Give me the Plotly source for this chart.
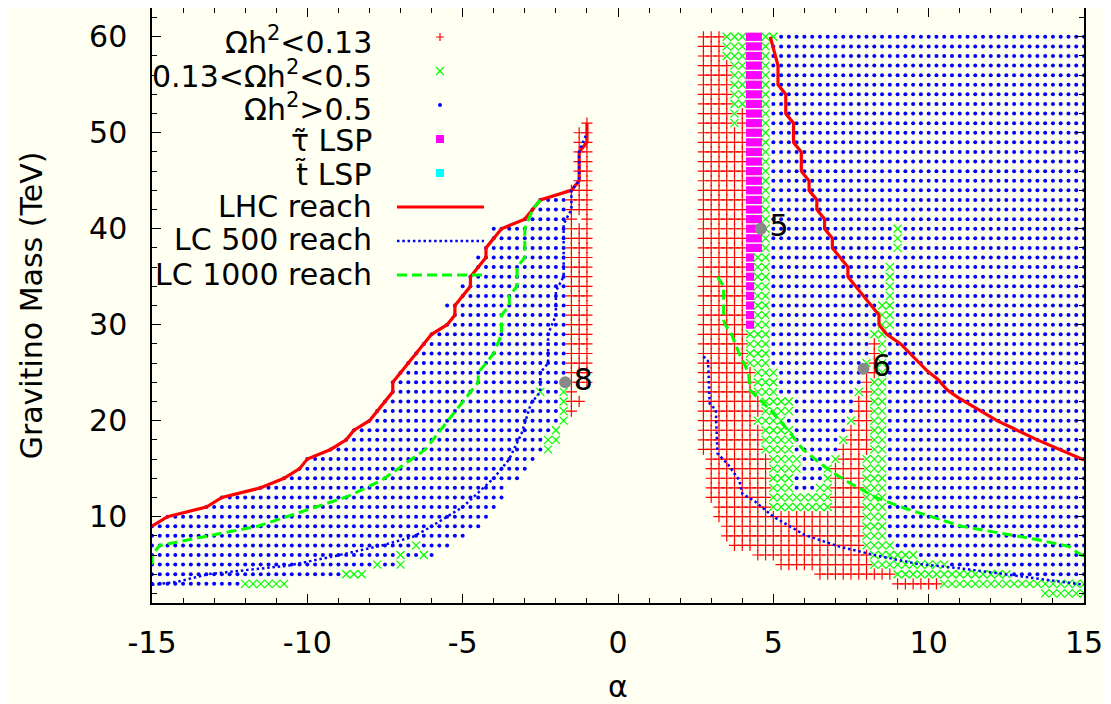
import plotly.graph_objects as go

STEP = 0.25

# ---- grid-point classification ------------------------------------------
# each band: (mass_from, mass_to, "cls a0 a1; cls a0 a1; ...")  (alpha ranges inclusive, step 0.25)
# r: Omega h^2 < 0.13, g: 0.13 < Omega h^2 < 0.5, b: Omega h^2 > 0.5, m: stau LSP
left_bands = [
    (3, 3, "b -15 -12.25; g -12 -10.75"),
    (4, 4, "b -15 -9; g -8.75 -8.25"),
    (5, 5, "b -15 -8; g -7.75; b -7.5 -7.25; g -7"),
    (6, 6, "b -15 -7.25; g -7; b -6.75 -6.5; g -6.25; b -6"),
    (7, 7, "b -15 -6.75; g -6.5; b -6.25 -5.5"),
    (8, 8, "b -15 -5"),
    (9, 9, "b -15 -4.5"),
    (10, 10, "b -14.5 -4.25"),
    (11, 11, "b -13.25 -4"),
    (12, 12, "b -12.75 -3.75"),
    (13, 13, "b -11.5 -3.75"),
    (14, 14, "b -10.75 -3.25"),
    (15, 15, "b -10.25 -3"),
    (16, 16, "b -10 -2.75"),
    (17, 17, "b -9.25 -2.5; g -2.25"),
    (18, 18, "b -8.75 -2.5; g -2.25 -2"),
    (19, 19, "b -8.5 -2.25; g -2"),
    (20, 20, "b -8 -2; g -1.75"),
    (21, 21, "b -7.75 -2; g -1.75; r -1.5"),
    (22, 22, "b -7.5 -2; g -1.75; r -1.5 -1.25"),
    (23, 23, "b -7.25 -2.75; g -2.5; b -2.25 -2; g -1.75; r -1.5"),
    (24, 24, "b -7.25 -1.75; r -1.5 -1"),
    (25, 25, "b -7 -1.75; r -1.5 -1"),
    (26, 26, "b -6.75 -1.75; r -1.5 -1"),
    (27, 27, "b -6.5 -1.75; r -1.5 -1"),
    (28, 28, "b -6.25 -1.75; r -1.5 -1"),
    (29, 29, "b -6 -1.75; r -1.5 -1"),
    (30, 30, "b -5.5 -1.75; r -1.5 -1"),
    (31, 31, "b -5.25 -1.75; r -1.5 -1"),
    (32, 32, "b -5.5 -1.75; r -1.5 -1"),
    (33, 33, "b -5 -1.75; r -1.5 -1"),
    (34, 34, "b -5 -1.75; r -1.5 -1"),
    (35, 35, "b -4.75 -1.75; r -1.5 -1"),
    (36, 37, "b -4.5 -1.75; r -1.5 -1"),
    (38, 38, "b -4.25 -1.75; r -1.5 -1"),
    (39, 40, "b -4 -1.75; r -1.5 -1"),
    (41, 41, "b -3 -1.75; r -1.5; r -1"),
    (42, 42, "b -2.75 -1.75; r -1.5 -1"),
    (43, 43, "b -2.5 -1.75; r -1.5 -1"),
    (44, 44, "r -1.5 -1"),
    (45, 50, "r -1.25 -1"),
    (51, 51, "r -1"),
]

right_bands = [
    (2, 2, "g 13.75 15"),
    (3, 3, "r 9 10.25; g 10.5 15"),
    (4, 4, "r 6.5 8.75; g 9 12.5; b 12.75 15"),
    (5, 5, "r 5.25 8; g 8.25 10.5; b 10.75 15"),
    (6, 6, "r 4.5 8; g 8.25 9.5; b 9.75 15"),
    (7, 7, "r 3.75 7.75; g 8 8.75; b 9 15"),
    (8, 8, "r 3.5 7.75; g 8 8.5; b 8.75 15"),
    (9, 9, "r 3.5 7.75; g 8 8.5; b 8.75 15"),
    (10, 10, "r 3.25 7.75; g 8 8.5; b 8.75 15"),
    (11, 11, "r 3.25 4.75; g 5 6.75; r 7 7.75; g 8 8.5; b 8.75 15"),
    (12, 12, "r 3 4.75; g 5 6.75; r 7 7.75; g 8 8.5; b 8.75 15"),
    (13, 13, "r 3 4.75; g 5 5.5; b 5.75 6.25; g 6.5 6.75; r 7 7.75; g 8 8.5; b 8.75 15"),
    (14, 14, "r 3 4.75; g 5 5.5; b 5.75 6.5; g 6.75; r 7 7.75; g 8 8.5; b 8.75 15"),
    (15, 15, "r 3 4.75; g 5 5.75; b 6 6.5; g 6.75; r 7 7.75; g 8 8.5; b 8.75 15"),
    (16, 16, "r 3 4.75; g 5 5.75; b 6 6.75; g 7; r 7.25 7.75; g 8 8.5; b 8.75 15"),
    (17, 17, "r 2.75 4.5; g 4.75 5.5; b 5.75 7; r 7.25 8; g 8.25 8.5; b 8.75 15"),
    (18, 18, "r 2.75 4.5; g 4.75 5.5; b 5.75 7; g 7.25; r 7.5 8; g 8.25 8.5; b 8.75 15"),
    (19, 19, "r 2.75 4.5; g 4.75 5.5; b 5.75 7.25; r 7.5 8; g 8.25 8.5; b 8.75 15"),
    (20, 20, "r 2.75 4.25; g 4.5 5.25; b 5.5 7.25; g 7.5; r 7.75 8; g 8.25 8.5; b 8.75 15"),
    (21, 22, "r 2.75 4.5; g 4.75 5.5; b 5.75 7.5; r 7.75 8; g 8.25 8.5; b 8.75 15"),
    (23, 23, "r 2.75 4.25; g 4.5 5; b 5.25 7.5; g 7.75; r 8; g 8.25 8.5; b 8.75 15"),
    (24, 24, "r 2.75 4.25; g 4.5 5; b 5.25 7.75; r 8; g 8.25 8.5; b 8.75 15"),
    (25, 25, "r 2.75 4.25; g 4.5 5; b 5.25 7.75; r 8 8.25; g 8.5; b 8.75 15"),
    (26, 26, "r 2.75 4; g 4.25 4.75; b 5 7.75; g 8; r 8.25; g 8.5; b 8.75 15"),
    (27, 28, "r 2.75 4; g 4.25 4.75; b 5 8; r 8.25; g 8.5; b 8.75 15"),
    (29, 29, "r 2.75 4; g 4.25 4.75; b 5 8; g 8.25 8.5; b 8.75 15"),
    (30, 32, "r 2.75 4; m 4.25; g 4.5 4.75; b 5 8.25; g 8.5 8.75; b 9 15"),
    (33, 36, "r 2.75 4; m 4.25; g 4.5 4.75; b 5 8.5; g 8.75; b 9 15"),
    (37, 37, "r 2.75 4; m 4.25; g 4.5 4.75; b 5 15"),
    (38, 40, "r 2.75 4; m 4.25 4.5; g 4.75; b 5 8.75; g 9; b 9.25 15"),
    (41, 50, "r 2.75 4; m 4.25 4.5; g 4.75; b 5 15"),
    (51, 52, "r 2.75 3.5; g 3.75; r 4; m 4.25 4.5; g 4.75; b 5 15"),
    (53, 57, "r 2.75 3.5; g 3.75 4; m 4.25 4.5; g 4.75; b 5 15"),
    (58, 59, "r 2.75 3.25; g 3.5 4; m 4.25 4.5; g 4.75; b 5 15"),
    (60, 60, "r 2.75 3.25; g 3.5 4; m 4.25 4.5; g 4.75 5; b 5.25 15"),
]

# ---- reach contours -----------------------------------------------------
lhc_left_alpha = [-15, -14.5, -13.25, -12.75, -11.5, -10.75, -10.25, -10, -9.25, -8.75, -8.5, -8,
                  -7.25, -7.25, -6, -5.5, -5.25, -5.25, -4.75, -4.75, -4.25, -4.25, -3.75, -3.0,
                  -2.75, -2.5, -1.5, -1.25, -1.25, -1.0, -1.0]
lhc_left_mass = [9, 10, 11, 12, 13, 14, 15, 16, 17, 18, 19, 20, 23, 24, 29, 30, 31, 32, 34, 35,
                 37, 38, 40, 41, 42, 43, 44, 45, 48, 49, 51]
lhc_right_alpha = [4.9, 5.15, 5.15, 5.4, 5.4, 5.65, 5.65, 5.9, 5.9, 6.15, 6.15, 6.4, 6.4, 6.65,
                   6.65, 6.9, 6.9, 7.4, 7.4, 8.4, 8.4, 8.65, 9.1, 9.95, 10.3, 10.6, 10.95, 12.2,
                   13.5, 15]
lhc_right_mass = [60, 57, 55, 54, 52, 51, 49, 48, 46, 45, 44, 43, 42, 41, 40, 39, 38, 36, 35, 31,
                  30, 29, 28, 25.2, 24.3, 23.2, 22.4, 20, 18, 15.9]

lc500_left_alpha = [-15, -14.2, -13.2, -12.3, -10.6, -9.1, -7.6, -6.6, -6.1, -5.55, -5.0, -4.5,
                    -4.0, -3.5, -3.1, -2.8, -2.5, -2.5, -2.25, -2.25, -2.0, -2.0, -1.75, -1.75,
                    -1.5, -1.5, -1.25, -1.25, -1.0]
lc500_left_mass = [2.9, 3.2, 4.0, 4.3, 4.9, 5.9, 7.0, 7.9, 8.8, 9.9, 11.0, 12.5, 14.0, 16.0, 18.7,
                   21.8, 23, 25, 26, 29, 31, 33.5, 35, 40.5, 42, 44, 45, 48, 50]
lc500_right_alpha = [2.75, 2.9, 2.95, 3.15, 3.2, 3.55, 3.9, 4.0, 4.4, 5.0, 6.0, 7.1, 8.25, 9.6,
                     11.05, 12.65, 13.95, 15]
lc500_right_mass = [26.7, 26.2, 21.8, 21.1, 16.6, 15.4, 13.8, 12.4, 11.6, 10.0, 8.1, 6.9, 6.0,
                    5.1, 4.6, 3.9, 3.4, 2.9]

lc1000_left_alpha = [-15, -15, -14.75, -11.6, -10.0, -8.7, -7.6, -6.2, -5.5, -4.5, -4.5, -4.0,
                     -3.75, -3.75, -3.5, -3.5, -3.25, -3.25, -3.0, -3.0, -2.75, -2.5]
lc1000_left_mass = [5.0, 6.0, 7.0, 9.0, 10.7, 12.1, 13.8, 17, 19.9, 24, 25, 27, 29, 31, 32, 33,
                    34, 36, 37, 40, 42, 43]
lc1000_right_alpha = [3.2, 3.4, 3.4, 3.45, 3.65, 3.9, 4.2, 4.25, 4.9, 5.5, 5.95, 6.65, 7.3, 8.3,
                      9.2, 10.25, 11.05, 13.5, 14.5, 15]
lc1000_right_mass = [35, 34, 30.5, 30, 29, 27, 25, 23.2, 21.1, 18.9, 17, 15.2, 13.8, 12.0, 10.9,
                     9.8, 9.0, 7.6, 6.9, 5.8]

# benchmark points
bench_alpha = [4.6, 7.9, -1.7]
bench_mass = [40, 25.4, 24]
bench_label = ["5", "6", "8"]

x_tickvals = [-15, -10, -5, 0, 5, 10, 15]
x_ticktext = ["-15", "-10", "-5", "0", "5", "10", "15"]
y_tickvals = [10, 20, 30, 40, 50, 60]

legend_labels = ["Ωh<sup>2</sup>&lt;0.13", "0.13&lt;Ωh<sup>2</sup>&lt;0.5", "Ωh<sup>2</sup>&gt;0.5",
                 "τ̃ LSP", "t̃ LSP", "LHC reach", "LC 500 reach", "LC 1000 reach"]

# ---- expand bands into points -------------------------------------------
pts = {c: ([], []) for c in "rgbm"}


def expand(bands):
    for m0, m1, spec in bands:
        for m in range(m0, m1 + 1):
            for seg in spec.split(";"):
                parts = seg.split()
                c = parts[0]
                a0 = float(parts[1])
                a1 = float(parts[2]) if len(parts) > 2 else a0
                n = int(round((a1 - a0) / STEP))
                for k in range(n + 1):
                    pts[c][0].append(a0 + k * STEP)
                    pts[c][1].append(m)


expand(left_bands)
expand(right_bands)

RED = "#ff0000"
GREEN = "#00ff00"
BLUE = "#0000ff"
MAG = "#ff00ff"
CYAN = "#00ffff"
BG = "#fffff2"
FONT = "DejaVu Sans, Verdana, sans-serif"
FS = 30
DOT = "2.5px,2.8px"
DASH = "10px,5px"

fig = go.Figure()
fig.add_trace(go.Scatter(x=pts["r"][0], y=pts["r"][1], mode="markers",
                         marker=dict(symbol="cross-thin", size=8, line=dict(color=RED, width=1.2))))
fig.add_trace(go.Scatter(x=pts["g"][0], y=pts["g"][1], mode="markers",
                         marker=dict(symbol="x-thin", size=8, line=dict(color=GREEN, width=1.2))))
fig.add_trace(go.Scatter(x=pts["b"][0], y=pts["b"][1], mode="markers",
                         marker=dict(symbol="circle", size=4, color=BLUE, line=dict(width=0))))
fig.add_trace(go.Scatter(x=pts["m"][0], y=pts["m"][1], mode="markers",
                         marker=dict(symbol="square", size=8.2, color=MAG, line=dict(width=0))))

for xs, ys in [(lhc_left_alpha, lhc_left_mass), (lhc_right_alpha, lhc_right_mass)]:
    fig.add_trace(go.Scatter(x=xs, y=ys, mode="lines", line=dict(color=RED, width=3.2)))
for xs, ys in [(lc500_left_alpha, lc500_left_mass), (lc500_right_alpha, lc500_right_mass)]:
    fig.add_trace(go.Scatter(x=xs, y=ys, mode="lines", line=dict(color=BLUE, width=2.5, dash=DOT)))
for xs, ys in [(lc1000_left_alpha, lc1000_left_mass), (lc1000_right_alpha, lc1000_right_mass)]:
    fig.add_trace(go.Scatter(x=xs, y=ys, mode="lines", line=dict(color=GREEN, width=3, dash=DASH)))

fig.add_trace(go.Scatter(x=bench_alpha, y=bench_mass, mode="markers+text", text=bench_label,
                         textposition="middle right",
                         textfont=dict(size=FS, color="black", family=FONT),
                         marker=dict(size=12, color="#888888")))

# ---- legend drawn inside the plot (gnuplot style) ------------------------
# page pixel geometry of the frame (the page body adds an 8 px offset)
OFF = 8
L, R, T, B = 152, 1084, 8, 603
W, H = 1111 - OFF, 704 - OFF


def px(x):
    return (x - L) / (R - L)


def py(y):
    return (B - y) / (B - T)


shapes = []
annotations = []
entry_y = [37, 71, 105, 139, 173, 207, 241, 275]
text_dy = [3, 3, 3, 1, 1, -1, -1, -1]
sym_x = 440
for lab, yy, dy in zip(legend_labels, entry_y, text_dy):
    annotations.append(dict(x=px(374), y=py(yy + dy), xref="paper", yref="paper", text=lab,
                            showarrow=False, xanchor="right", yanchor="middle",
                            font=dict(size=FS, color="black", family=FONT)))
s = 4
shapes.append(dict(type="path", xref="paper", yref="paper",
                   path=f"M {px(sym_x - s)},{py(entry_y[0])} L {px(sym_x + s)},{py(entry_y[0])} "
                        f"M {px(sym_x)},{py(entry_y[0] - s)} L {px(sym_x)},{py(entry_y[0] + s)}",
                   line=dict(color=RED, width=1.2)))
shapes.append(dict(type="path", xref="paper", yref="paper",
                   path=f"M {px(sym_x - s)},{py(entry_y[1] - s)} L {px(sym_x + s)},{py(entry_y[1] + s)} "
                        f"M {px(sym_x - s)},{py(entry_y[1] + s)} L {px(sym_x + s)},{py(entry_y[1] - s)}",
                   line=dict(color=GREEN, width=1.2)))
shapes.append(dict(type="circle", xref="paper", yref="paper", x0=px(sym_x - 2), x1=px(sym_x + 2),
                   y0=py(entry_y[2] - 2), y1=py(entry_y[2] + 2), fillcolor=BLUE, line=dict(width=0)))
for yy, col in [(entry_y[3], MAG), (entry_y[4], CYAN)]:
    shapes.append(dict(type="rect", xref="paper", yref="paper", x0=px(sym_x - 4), x1=px(sym_x + 4),
                       y0=py(yy - 4), y1=py(yy + 4), fillcolor=col, line=dict(width=0)))
for yy, col, dash, w in [(entry_y[5], RED, "solid", 3.2), (entry_y[6], BLUE, DOT, 2.5),
                         (entry_y[7], GREEN, DASH, 3)]:
    shapes.append(dict(type="line", xref="paper", yref="paper", x0=px(397), x1=px(484),
                       y0=py(yy), y1=py(yy), line=dict(color=col, width=w, dash=dash)))

fig.update_layout(
    width=W, height=H,
    margin=dict(l=L - OFF, r=W - (R - OFF), t=T - OFF, b=H - (B - OFF), autoexpand=False),
    paper_bgcolor=BG, plot_bgcolor=BG,
    showlegend=False,
    shapes=shapes, annotations=annotations,
    font=dict(family=FONT, size=FS, color="black"),
)
fig.update_xaxes(range=[-15, 15], tickvals=x_tickvals, ticktext=x_ticktext, ticks="inside",
                 ticklen=9, tickwidth=1.3, tickcolor="black", mirror="ticks", showline=True,
                 linecolor="black", linewidth=1.5, showgrid=False, zeroline=False, automargin=False,
                 tickfont=dict(size=FS, family=FONT), ticklabelstandoff=12,
                 minor=dict(dtick=1, tick0=0, ticks="inside", ticklen=5, tickcolor="black"),
                 title=dict(text="α", font=dict(size=FS, family=FONT), standoff=17))
fig.update_yaxes(range=[1, 63], tickvals=y_tickvals, ticks="inside",
                 ticklen=9, tickwidth=1.3, tickcolor="black", mirror="ticks", showline=True,
                 linecolor="black", linewidth=1.5, showgrid=False, zeroline=False, automargin=False,
                 tickfont=dict(size=FS, family=FONT), ticklabelstandoff=17,
                 minor=dict(dtick=2, tick0=0, ticks="inside", ticklen=5, tickcolor="black"),
                 title=dict(text="Gravitino Mass (TeV)", font=dict(size=FS, family=FONT), standoff=38))

fig.write_html("out.html")
